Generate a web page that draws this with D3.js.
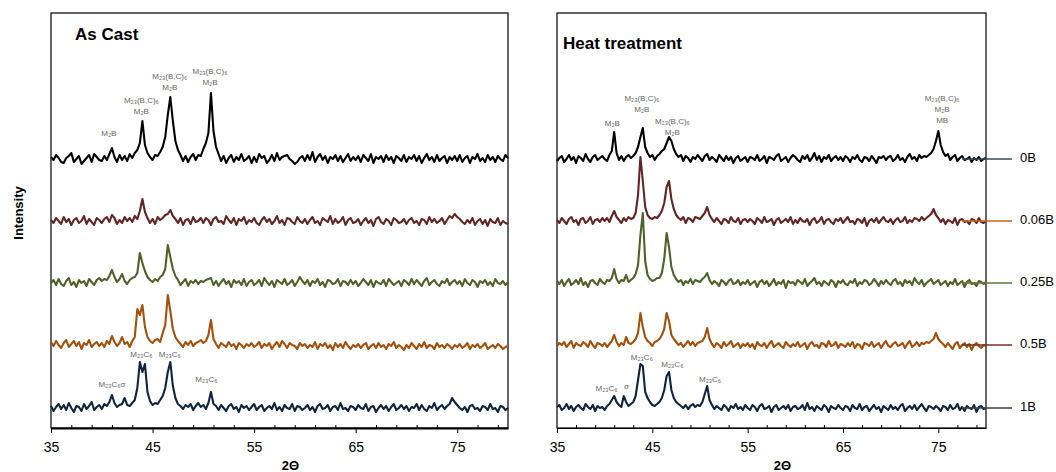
<!DOCTYPE html>
<html lang="en">
<head>
<meta charset="utf-8">
<title>XRD - As Cast / Heat treatment</title>
<script src="https://cdn.jsdelivr.net/npm/d3@7"></script>
<style>
body { margin: 0; background: #fff; }
text { font-family: "Liberation Sans", Arial, sans-serif; }
.tick text { font-family: "Liberation Sans Narrow", "Arial Narrow", "Liberation Sans", sans-serif; font-size: 14px; }
.note { font-size: 8px; fill: #666; }
.trace { fill: none; stroke-width: 2.1px; stroke-linejoin: round; }
</style>
</head>
<body>
<div id="chart"></div>
<script>
// scan: 35 -> 80 deg, step 0.25 (one row = 5 deg)
var start = 35, step = 0.25;
var samples = ["0B", "0.06B", "0.25B", "0.5B", "1B"];
var offsets = [269, 207, 145, 83, 20];
var xTicks = [35, 45, 55, 65, 75];
var minorTicks = [37, 39, 41, 43, 47, 49, 51, 53, 57, 59, 61, 63, 67, 69, 71, 73, 77, 79];

var asCast0B = [
  2,-1,4,1,-3,-4,1,3,6,-3,0,3,-5,-2,1,4,-3,5,2,-1,
  -2,3,-1,5,11,2,-3,4,-1,3,-2,5,1,6,9,16,38,14,6,2,
  -1,4,3,7,12,22,44,62,38,18,9,4,-2,3,-3,2,5,-1,4,3,
  10,16,26,66,28,12,5,-2,3,-4,1,4,-3,2,-1,5,-2,0,3,-4,
  2,-3,5,1,3,-4,-1,4,-2,6,-1,2,3,4,0,-2,-5,-3,1,3,
  -2,4,-1,7,-3,2,5,-1,3,-4,2,0,4,-2,3,-3,1,5,-2,2,
  -1,3,-3,4,1,-2,5,-4,2,0,3,-3,4,-1,2,-4,3,1,-2,4,
  -3,2,0,4,-2,3,-4,1,5,-1,2,-3,4,-2,1,3,-4,2,-1,3,
  -2,4,-3,1,3,-4,2,0,5,-2,1,-3,4,-1,2,-3,3,0,-2,4,
  1];
var asCast006B = [
  1,-2,3,0,-3,4,-1,2,-4,1,3,-2,0,5,-3,2,-1,-4,3,1,
  -2,2,4,-1,6,3,-3,1,-2,4,0,3,-1,5,2,10,22,9,3,-2,
  2,-3,4,1,3,6,7,11,5,2,-2,3,-4,1,2,-3,4,-1,0,3,
  -2,3,1,-4,2,4,-1,0,-3,5,1,-2,3,-4,2,0,4,-3,1,-1,
  3,-2,-4,1,4,-1,2,-3,0,5,-2,1,-4,3,2,-1,-3,4,0,-2,
  2,-3,1,4,-2,0,-4,3,1,-1,5,-3,2,-2,0,4,-4,1,3,-2,
  -1,2,-4,0,3,-2,1,-5,2,4,-1,-3,2,0,-4,3,1,-2,-1,2,
  -3,1,3,-2,0,-4,2,1,-3,4,-1,2,-2,0,3,-3,1,5,3,7,
  4,2,-1,-3,1,-2,3,-4,0,2,-3,1,-5,2,-1,-2,3,-4,0,-2,
  -3];
var asCast025B = [
  0,3,-2,4,-1,-3,2,5,-2,1,-4,3,0,2,-3,4,1,-2,3,5,
  2,4,3,7,13,6,1,4,9,2,-1,3,5,6,10,30,20,12,6,3,
  1,4,2,6,8,14,38,26,14,7,3,-2,1,4,-3,2,0,3,-1,2,
  1,3,4,5,-2,2,-3,1,4,-1,2,-4,3,0,2,-2,4,-3,1,3,
  -2,0,3,-3,5,1,-2,2,-4,3,1,-1,4,-2,0,3,-3,1,6,2,
  -1,3,-3,2,0,4,-2,1,-4,3,2,-1,0,4,-3,2,1,-2,3,-1,
  2,-3,0,4,1,-2,3,-4,2,0,-1,3,-3,4,1,-2,0,2,-3,3,
  1,-2,4,-1,3,0,-3,2,5,-2,1,3,-1,-3,2,0,4,-2,1,3,
  -1,2,-3,4,0,-2,3,1,-4,2,0,3,-2,1,-3,4,0,-1,2,-2,
  1];
var asCast05B = [
  3,-1,4,0,-3,2,5,-2,1,4,-1,3,-4,2,0,5,-2,1,3,-1,
  2,-2,4,1,9,3,-1,2,8,1,3,-2,4,8,36,30,40,18,8,4,
  2,5,6,3,12,20,50,34,16,8,4,1,-2,3,0,4,-1,2,3,5,
  2,4,10,25,6,1,-3,2,0,-2,3,-1,1,-4,2,0,-3,1,-1,2,
  -2,0,3,-3,1,-1,2,-4,0,3,-2,4,1,-3,2,0,-1,-4,2,-1,
  1,-3,0,-2,3,-4,1,-1,2,-3,0,-5,2,-2,1,-3,3,-1,-4,0,
  -2,1,-3,0,2,-4,-1,1,-3,2,-2,0,-4,1,-1,3,-3,0,-2,-5,
  0,-3,2,-1,-4,1,-2,3,-3,0,-1,-4,2,-2,0,-3,1,-1,-4,0,
  -2,1,-3,-1,2,-4,0,-2,1,-3,-1,2,-4,-2,0,-3,1,-1,-4,-2,
  -1];
var asCast1B = [
  2,-3,1,4,-1,3,-2,5,0,-4,2,1,-3,4,-1,2,6,-2,1,3,
  -1,4,2,6,13,5,1,3,4,10,3,2,5,8,20,46,36,44,16,7,
  3,5,4,8,12,20,36,46,22,10,4,2,-1,3,1,4,-2,2,5,1,
  3,-1,5,16,4,2,-2,3,0,-3,2,4,-1,1,-4,3,0,2,-2,1,
  4,-2,1,3,-3,0,2,-1,5,-2,1,-3,3,0,-1,4,-3,2,1,-2,
  0,3,-2,1,-4,2,4,-1,0,3,-3,1,2,-2,5,-1,0,-3,2,1,
  -2,3,0,-1,4,-3,1,2,-4,0,3,-1,2,-3,1,4,-2,0,3,-1,
  2,-3,1,0,4,-2,3,-1,-3,2,0,5,-2,1,3,-1,2,4,10,6,
  3,0,-2,1,-4,2,3,-1,0,-3,2,1,-2,4,-1,0,-4,2,1,-2,
  0];

var heat0B = [
  -2,1,3,-3,0,4,-1,2,-4,3,1,-2,5,0,-3,2,4,-1,1,3,
  0,-2,4,8,27,6,-1,3,-2,2,4,1,3,6,12,22,31,12,6,2,
  4,-1,3,5,8,10,16,22,18,10,5,2,4,-2,3,1,-3,2,0,4,
  1,-2,3,5,-1,2,0,-3,4,1,-2,3,-1,2,-4,1,3,-2,0,2,
  -3,2,1,-1,4,-2,0,3,-4,2,1,-1,3,5,-2,0,2,-3,1,4,
  2,-1,-3,3,0,4,-2,1,6,-1,3,-3,2,0,4,-2,1,3,-1,2,
  -2,3,1,-3,2,0,4,-1,-3,2,1,-2,3,0,-4,2,1,3,-1,2,
  3,-2,0,4,-1,1,-3,2,5,0,2,-2,4,1,3,2,4,6,10,18,
  28,14,7,3,5,-1,2,4,-2,1,3,-1,0,2,-3,1,-1,2,-2,0,
  1];
var heat006B = [
  1,-2,3,0,-3,2,4,-1,1,-4,2,3,-2,0,4,-3,1,2,-1,3,
  0,3,-1,5,10,4,1,-2,3,0,4,2,3,8,26,64,40,14,6,3,
  2,4,3,6,10,18,34,40,22,12,6,3,1,4,-2,3,2,-1,4,3,
  2,5,8,14,6,2,-1,3,0,-3,2,1,-2,4,0,-1,3,-3,1,2,
  -1,2,0,-3,3,1,-2,4,-1,0,2,-4,1,3,-2,0,2,-1,4,-3,
  1,-2,3,0,-1,2,-4,1,3,-2,0,4,-3,1,2,-1,-3,2,0,3,
  -2,1,4,-1,0,-3,2,1,-2,3,-5,0,2,-1,3,-2,1,4,0,-1,
  2,-3,1,3,-1,0,4,-2,1,-1,3,2,0,4,1,3,5,7,12,6,
  3,-1,2,-3,1,0,-2,3,-4,1,2,-1,0,-3,2,1,-2,3,-1,-2,
  0];
var heat025B = [
  2,-1,3,-3,1,4,-2,0,3,-1,5,-2,1,-4,2,3,0,-2,4,1,
  -1,3,2,5,14,4,0,3,2,8,1,3,5,9,18,48,70,22,8,4,
  2,3,5,5,10,24,50,36,16,8,4,1,3,-2,2,0,4,-1,3,2,
  1,4,6,10,3,-1,2,0,-3,3,1,-2,2,4,-1,0,3,-2,1,-1,
  3,-2,0,2,-4,1,3,-1,2,-3,0,4,-2,1,-1,3,-5,2,0,1,
  -2,3,1,-1,4,-3,0,2,5,-1,1,-3,2,0,-2,3,1,-4,2,0,
  3,-1,-2,2,0,4,-3,1,-1,3,2,-2,0,4,1,-3,2,-1,3,0,
  -2,2,4,-1,1,-3,3,0,2,-2,5,1,-1,3,-3,0,2,4,-1,1,
  3,-2,0,2,-3,1,-1,4,-2,0,2,-4,1,3,-1,0,-3,2,1,-1,
  1];
var heat05B = [
  -1,2,0,3,-2,1,4,-3,2,0,-1,3,1,-2,4,0,-3,2,1,-1,
  2,-2,1,4,10,3,-1,2,0,8,2,1,3,6,12,32,18,8,4,2,
  -1,3,4,6,10,16,32,24,10,6,3,0,2,-2,1,4,0,3,-1,2,
  3,4,8,17,6,1,-2,2,0,-3,3,-1,1,4,-2,0,2,-3,1,-1,
  2,-2,1,-4,3,0,-1,2,-3,1,4,-2,0,2,-1,-3,3,0,-2,1,
  -1,3,-2,0,2,-4,1,3,-1,0,-3,2,1,-2,4,-1,0,3,-3,1,
  0,-2,2,-1,3,-3,1,0,-4,2,1,-1,3,-2,0,2,-3,1,4,-1,
  -2,1,3,-1,0,2,-3,1,4,-2,0,3,-1,2,1,3,2,4,6,12,
  6,3,1,-2,2,-1,-4,1,3,-3,0,2,-2,1,-5,0,2,-1,-3,0,
  -1];
var heat1B = [
  1,3,-2,0,4,-1,2,-3,1,3,0,-2,4,1,-1,3,-3,2,0,1,
  -2,2,4,8,12,6,3,1,12,6,2,4,6,12,28,44,42,16,10,6,
  3,2,4,6,10,18,32,36,18,10,6,4,2,0,3,-1,2,4,1,3,
  2,6,14,22,8,3,-1,2,0,-2,3,1,-3,2,0,4,-1,1,-2,3,
  0,-2,3,1,-3,2,4,-1,0,2,-4,1,3,-2,0,2,-1,3,-3,1,
  2,-1,0,3,-2,5,-1,1,-3,2,0,-2,3,1,-4,2,0,-1,3,0,
  -2,2,1,-3,3,0,-1,4,-2,1,2,-3,0,3,-1,1,-4,2,0,-2,
  3,-1,1,-2,2,4,-3,0,2,-1,3,-2,1,4,0,-3,2,1,-1,2,
  0,-3,2,1,-2,3,-1,0,4,-2,1,-3,2,0,-1,3,-4,1,2,-1,
  0];

var asCast = [asCast0B, asCast006B, asCast025B, asCast05B, asCast1B];
var heat = [heat0B, heat006B, heat025B, heat05B, heat1B];

// peak labels: 2theta, intensity level (a.u.), text lines
var castNotes = [
  { t: 40.7, v: 294, lines: ["M₂B"] },
  { t: 43.9, v: 327, lines: ["M₂₃(B,C)₆", "M₂B"] },
  { t: 46.7, v: 351, lines: ["M₂₃(B,C)₆", "M₂B"] },
  { t: 50.65, v: 356, lines: ["M₂₃(B,C)₆", "M₂B"] },
  { t: 41.0, v: 43, lines: ["M₂₃C₆σ"] },
  { t: 43.9, v: 73, lines: ["M₂₃C₆"] },
  { t: 46.7, v: 73, lines: ["M₂₃C₆"] },
  { t: 50.3, v: 48, lines: ["M₂₃C₆"] }
];
var heatNotes = [
  { t: 40.8, v: 304, lines: ["M₂B"] },
  { t: 43.9, v: 329, lines: ["M₂₃(B,C)₆", "M₂B"] },
  { t: 47.1, v: 306, lines: ["M₂₃(B,C)₆", "M₂B"] },
  { t: 75.4, v: 329, lines: ["M₂₃(B,C)₆", "M₂B", "MB"] },
  { t: 40.2, v: 39, lines: ["M₂₃C₆"] },
  { t: 42.3, v: 41, lines: ["σ"] },
  { t: 43.9, v: 70, lines: ["M₂₃C₆"] },
  { t: 47.1, v: 63, lines: ["M₂₃C₆"] },
  { t: 51.05, v: 48, lines: ["M₂₃C₆"] }
];

var colors = ["#000000", "#632523", "#4f6228", "#a4500a", "#0f243e"];
var legendColors = ["#3b4a5c", "#c46a1a", "#5d7a35", "#7b2b2b", "#404040"];

var width = 1056, height = 472;

var svg = d3.select("#chart")
    .append("svg")
    .attr("width", width)
    .attr("height", height);

var y = d3.scaleLinear().domain([0, 415]).range([428, 13]);
var xCast = d3.scaleLinear().domain([35, 80]).range([51, 508]);
var xHeat = d3.scaleLinear().domain([35, 80]).range([557, 986]);

function drawPanel(x, series, notes, title, tx, ty, axisWidth) {
    var g = svg.append("g");

    g.append("rect")
        .attr("x", x(35))
        .attr("y", y(415))
        .attr("width", x(80) - x(35))
        .attr("height", y(0) - y(415))
        .attr("fill", "none")
        .attr("stroke", "#000")
        .attr("stroke-width", 1.2);

    series.forEach(function(vals, j) {
        var line = d3.line()
            .x(function(d, i) { return x(start + i * step); })
            .y(function(d) { return y(d + offsets[j]); });
        g.append("path")
            .datum(vals)
            .attr("class", "trace")
            .attr("stroke", colors[j])
            .attr("d", line);
    });

    var minor = g.append("g")
        .attr("transform", "translate(0," + y(0) + ")")
        .call(d3.axisBottom(x).tickValues(minorTicks).tickSize(-3).tickSizeOuter(0).tickFormat(""));
    minor.select(".domain").remove();

    var major = g.append("g")
        .attr("transform", "translate(0," + y(0) + ")")
        .call(d3.axisBottom(x).tickValues(xTicks).tickSize(5).tickSizeOuter(0).tickPadding(9));
    major.select(".domain").attr("stroke-width", axisWidth);
    major.selectAll(".tick text").attr("fill", "#000");

    g.append("text")
        .attr("x", tx)
        .attr("y", ty)
        .attr("font-size", "17px")
        .attr("font-weight", "bold")
        .text(title);

    notes.forEach(function(n) {
        n.lines.forEach(function(s, k) {
            g.append("text")
                .attr("class", "note")
                .attr("x", x(n.t))
                .attr("y", y(n.v) + k * 11)
                .attr("text-anchor", "middle")
                .attr("dominant-baseline", "middle")
                .text(s);
        });
    });

    g.append("text")
        .attr("x", (x(35) + x(80)) / 2 + 11)
        .attr("y", 470)
        .attr("text-anchor", "middle")
        .attr("font-size", "13px")
        .attr("font-weight", "bold")
        .text("2Θ");
}

drawPanel(xCast, asCast, castNotes, "As Cast", 75, 40, 2);
drawPanel(xHeat, heat, heatNotes, "Heat treatment", 563, 49, 1.2);

svg.append("text")
    .attr("transform", "translate(23," + 213 + ") rotate(-90)")
    .attr("text-anchor", "middle")
    .attr("font-size", "13px")
    .attr("font-weight", "bold")
    .text("Intensity");

// legend (keys overlap the right frame, as in the original)
var legend = svg.append("g");
samples.forEach(function(s, j) {
    var ly = y(offsets[j]);
    legend.append("line")
        .attr("x1", 962).attr("x2", 1012)
        .attr("y1", ly).attr("y2", ly)
        .attr("stroke", legendColors[j])
        .attr("stroke-width", 1.5);
    legend.append("text")
        .attr("x", 1020)
        .attr("y", ly)
        .attr("dominant-baseline", "middle")
        .attr("font-size", "13px")
        .text(s);
});
</script>
</body>
</html>
